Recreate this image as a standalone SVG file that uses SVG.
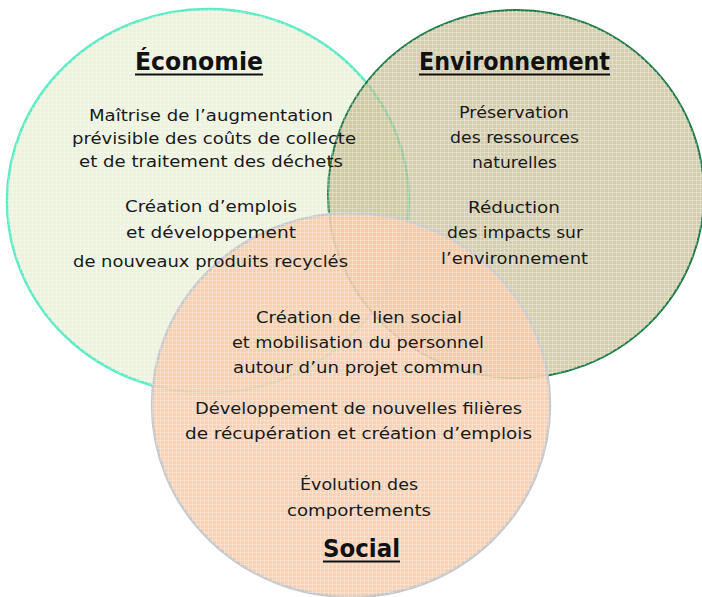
<svg xmlns="http://www.w3.org/2000/svg" width="702" height="597" viewBox="0 0 702 597">
  <defs>
    <pattern id="grid" width="4" height="4" patternUnits="userSpaceOnUse">
      <rect x="0" y="0" width="4" height="1" fill="#ffffff" fill-opacity="0.28"/>
      <rect x="0" y="0" width="1" height="4" fill="#ffffff" fill-opacity="0.28"/>
    </pattern>
    <clipPath id="allc">
      <ellipse cx="208" cy="201" rx="201" ry="192"/>
      <ellipse cx="516" cy="194" rx="188" ry="184"/>
      <ellipse cx="351" cy="405" rx="199" ry="192"/>
    </clipPath>
    <style>
      .t { font-family: "DejaVu Sans", "Liberation Sans", sans-serif; font-size: 16.5px; fill: #1a1a1a; text-anchor: middle; }
      .h { font-family: "DejaVu Sans", "Liberation Sans", sans-serif; font-size: 25px; font-weight: bold; fill: #111; text-anchor: middle; }
      .ul { stroke: #111; stroke-width: 2; }
    </style>
  </defs>
  <rect width="702" height="597" fill="#ffffff"/>
  <g id="economie">
    <ellipse cx="208" cy="201" rx="201" ry="192" fill="#ECF2DC" stroke="#5CEBC4" stroke-width="2.5"/>
  </g>
  <g id="environnement">
    <ellipse cx="516" cy="194" rx="188" ry="184" fill="#BDB585" fill-opacity="0.66" stroke="#1E7A45" stroke-width="2"/>
  </g>
  <g id="social">
    <ellipse cx="351" cy="405" rx="199" ry="192" fill="#F8CBAA" fill-opacity="0.88" stroke="#C8C8C8" stroke-width="2.5"/>
  </g>
  <rect width="702" height="597" fill="url(#grid)" clip-path="url(#allc)"/>
  <g id="connectors"></g>
  <g id="economie-text">
    <text class="h" x="199" y="70" textLength="128" lengthAdjust="spacingAndGlyphs">Économie</text>
    <line class="ul" x1="135" y1="74.5" x2="263" y2="74.5"/>
    <text class="t" x="211" y="121" textLength="244" lengthAdjust="spacingAndGlyphs">Maîtrise de l’augmentation</text>
    <text class="t" x="214" y="144" textLength="284" lengthAdjust="spacingAndGlyphs">prévisible des coûts de collecte</text>
    <text class="t" x="211" y="167" textLength="264" lengthAdjust="spacingAndGlyphs">et de traitement des déchets</text>
    <text class="t" x="211" y="212" textLength="172" lengthAdjust="spacingAndGlyphs">Création d’emplois</text>
    <text class="t" x="211" y="238" textLength="170" lengthAdjust="spacingAndGlyphs">et développement</text>
    <text class="t" x="210.5" y="267" textLength="275" lengthAdjust="spacingAndGlyphs">de nouveaux produits recyclés</text>
  </g>
  <g id="environnement-text">
    <text class="h" x="514.5" y="70" textLength="191" lengthAdjust="spacingAndGlyphs">Environnement</text>
    <line class="ul" x1="419" y1="74.5" x2="610" y2="74.5"/>
    <text class="t" x="514" y="118" textLength="110" lengthAdjust="spacingAndGlyphs">Préservation</text>
    <text class="t" x="514.5" y="143" textLength="129" lengthAdjust="spacingAndGlyphs">des ressources</text>
    <text class="t" x="514.5" y="168" textLength="85" lengthAdjust="spacingAndGlyphs">naturelles</text>
    <text class="t" x="514" y="213" textLength="92" lengthAdjust="spacingAndGlyphs">Réduction</text>
    <text class="t" x="515" y="238" textLength="136" lengthAdjust="spacingAndGlyphs">des impacts sur</text>
    <text class="t" x="514.5" y="264" textLength="147" lengthAdjust="spacingAndGlyphs">l’environnement</text>
  </g>
  <g id="social-text">
    <text class="t" x="359" y="323" textLength="206" lengthAdjust="spacingAndGlyphs" style="white-space:pre">Création de  lien social</text>
    <text class="t" x="358" y="348" textLength="252" lengthAdjust="spacingAndGlyphs">et mobilisation du personnel</text>
    <text class="t" x="358" y="373" textLength="250" lengthAdjust="spacingAndGlyphs">autour d’un projet commun</text>
    <text class="t" x="358.5" y="414" textLength="327" lengthAdjust="spacingAndGlyphs">Développement de nouvelles filières</text>
    <text class="t" x="358.5" y="439" textLength="347" lengthAdjust="spacingAndGlyphs">de récupération et création d’emplois</text>
    <text class="t" x="359" y="490" textLength="118" lengthAdjust="spacingAndGlyphs">Évolution des</text>
    <text class="t" x="359" y="516" textLength="144" lengthAdjust="spacingAndGlyphs">comportements</text>
    <text class="h" x="361.5" y="557" textLength="77" lengthAdjust="spacingAndGlyphs">Social</text>
    <line class="ul" x1="323" y1="561.5" x2="400" y2="561.5"/>
  </g>
</svg>
